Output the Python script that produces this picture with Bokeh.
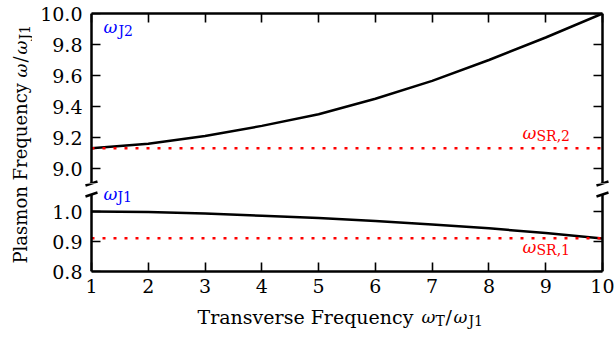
import math
from bokeh.plotting import figure
from bokeh.layouts import row, column
from bokeh.models import (Range1d, LinearAxis, FixedTicker, PrintfTickFormatter, Label)
from bokeh.embed import file_html
from bokeh.resources import INLINE

# ---------------- data ----------------
x_vals = [1, 2, 3, 4, 5, 6, 7, 8, 9, 10]
upper_mode = [9.13, 9.16, 9.21, 9.275, 9.35, 9.45, 9.565, 9.70, 9.845, 10.0]
lower_mode = [1.0, 0.998, 0.993, 0.986, 0.978, 0.968, 0.957, 0.944, 0.928, 0.910]
sr2_level = 9.13
sr1_level = 0.911
x_ticks = [1, 2, 3, 4, 5, 6, 7, 8, 9, 10]
top_ticks = [9.0, 9.2, 9.4, 9.6, 9.8, 10.0]
bottom_ticks = [0.8, 0.9, 1.0]

FONT = "DejaVu Serif"
FS = "19px"
OM = "17px"
SUB = "14px"
SH = 7   # baseline correction for Label text (px)

# ---------------- geometry (pixels) ----------------
W, H = 614, 339
LEFT_W = 32
PANEL_W = W - LEFT_W
SP_L, SP_R = 91, 602          # spines (x = 1 and x = 10)
FR_L, FR_R = 84, 609          # frames extend a little past the spines
TOP_T, TOP_SP_B = 13, 183
SPLIT = 183                   # top frame ends / bottom frame starts here
BOT_SP_T, BOT_B = 194, 271
TOP_H = SPLIT
STRIP_T = 303
BOT_H = STRIP_T - TOP_H

X0, X1 = x_ticks[0], x_ticks[-1]
TOP_PX_PER = 155.0
TOP_MAX = top_ticks[-1]
BOT_PX_PER = 300.0
BOT_MIN = bottom_ticks[0]


def xd(px):
    return X0 + (px - SP_L) * (X1 - X0) / (SP_R - SP_L)


def ty(py):
    return TOP_MAX - (py - TOP_T) / TOP_PX_PER


def by(py):
    return BOT_MIN + (BOT_B - py) / BOT_PX_PER


def style_axis(ax, ticks, labels=True):
    ax.axis_line_width = 2.5
    ax.axis_line_color = "black"
    ax.major_tick_in = 9
    ax.major_tick_out = 0
    ax.minor_tick_in = 0
    ax.minor_tick_out = 0
    ax.major_tick_line_width = 1.6
    ax.major_tick_line_color = "black"
    ax.major_label_text_font = FONT
    ax.major_label_text_color = "black"
    if labels:
        ax.major_label_text_font_size = FS
    else:
        ax.major_label_overrides = {t: "" for t in ticks}
        ax.major_label_text_font_size = "1px"
        ax.major_label_standoff = 0
    return ax


def label_axis(ticker):
    # tick labels only, sitting at the frame edge
    ax = LinearAxis(ticker=ticker, formatter=PrintfTickFormatter(format="%.1f"))
    ax.axis_line_color = None
    ax.major_tick_line_color = None
    ax.minor_tick_line_color = None
    ax.major_tick_in = 0
    ax.major_tick_out = 0
    ax.minor_tick_in = 0
    ax.minor_tick_out = 0
    ax.major_label_text_font = FONT
    ax.major_label_text_font_size = FS
    ax.major_label_text_color = "black"
    ax.major_label_standoff = 2
    return ax


def make_fig(width, height, xr, yr, bl=0, br=0, bt=0, bb=0):
    p = figure(width=width, height=height, x_range=xr, y_range=yr,
               output_backend="svg", toolbar_location=None,
               x_axis_location=None, y_axis_location=None,
               min_border_left=bl, min_border_right=br,
               min_border_top=bt, min_border_bottom=bb)
    p.outline_line_color = None
    p.grid.grid_line_color = None
    p.background_fill_color = "white"
    p.border_fill_color = "white"
    return p


def add_text(p, x, y, text, size=FS, color="black", italic=False, angle=0.0):
    p.add_layout(Label(x=x, y=y, text=text, text_font=FONT, text_font_size=size,
                       text_color=color, text_font_style="italic" if italic else "normal",
                       text_align="left", text_baseline="alphabetic", angle=angle))


def brk(p, cx, cy, yfn):
    p.segment(x0=[xd(cx - 6)], y0=[yfn(cy + 2)], x1=[xd(cx + 6)], y1=[yfn(cy - 2)],
              line_width=2.5, line_color="black")


xt = FixedTicker(ticks=x_ticks)

# ---------------- top panel ----------------
top = make_fig(PANEL_W, TOP_H, Range1d(xd(FR_L), xd(FR_R)), Range1d(ty(SPLIT), TOP_MAX),
               bl=FR_L - LEFT_W, br=W - FR_R, bt=TOP_T, bb=0)
yt = FixedTicker(ticks=top_ticks)
top_bounds = (ty(TOP_SP_B), TOP_MAX)
top.add_layout(label_axis(yt), "left")
top.add_layout(style_axis(LinearAxis(ticker=yt, fixed_location=X0, bounds=top_bounds),
                          top_ticks, labels=False), "left")
top.add_layout(style_axis(LinearAxis(ticker=yt, fixed_location=X1, bounds=top_bounds),
                          top_ticks, labels=False), "right")
top.add_layout(style_axis(LinearAxis(ticker=xt, bounds=(X0, X1)), x_ticks, labels=False), "above")

top.line(x_vals, upper_mode, line_width=2.5, line_color="black")
top.line([x_vals[0], x_vals[-1]], [sr2_level, sr2_level], line_color="red",
         line_width=2.5, line_dash="3 8")

add_text(top, xd(103), ty(33 - SH), "ω", size=OM, color="blue", italic=True)
add_text(top, xd(118), ty(37 - SH), "J2", size=SUB, color="blue")
add_text(top, xd(522), ty(139 - SH), "ω", size=OM, color="red", italic=True)
add_text(top, xd(536), ty(142 - SH), "SR,2", size=SUB, color="red")
brk(top, SP_L, TOP_SP_B, ty)
brk(top, SP_R, TOP_SP_B, ty)

# ---------------- bottom panel ----------------
bot = make_fig(PANEL_W, BOT_H, Range1d(xd(FR_L), xd(FR_R)), Range1d(BOT_MIN, by(SPLIT)),
               bl=FR_L - LEFT_W, br=W - FR_R, bt=0, bb=STRIP_T - BOT_B)
ybt = FixedTicker(ticks=bottom_ticks)
bot_bounds = (BOT_MIN, by(BOT_SP_T))
bot.add_layout(label_axis(ybt), "left")
bot.add_layout(style_axis(LinearAxis(ticker=ybt, fixed_location=X0, bounds=bot_bounds),
                          bottom_ticks, labels=False), "left")
bot.add_layout(style_axis(LinearAxis(ticker=ybt, fixed_location=X1, bounds=bot_bounds),
                          bottom_ticks, labels=False), "right")
xb = style_axis(LinearAxis(ticker=xt, bounds=(X0, X1)), x_ticks)
xb.major_label_standoff = 7
bot.add_layout(xb, "below")

bot.line(x_vals, lower_mode, line_width=2.5, line_color="black")
bot.line([x_vals[0], x_vals[-1]], [sr1_level, sr1_level], line_color="red",
         line_width=2.5, line_dash="3 8")

add_text(bot, xd(103), by(200 - SH), "ω", size=OM, color="blue", italic=True)
add_text(bot, xd(117), by(203 - SH), "J1", size=SUB, color="blue")
add_text(bot, xd(522), by(253 - SH), "ω", size=OM, color="red", italic=True)
add_text(bot, xd(536), by(256 - SH), "SR,1", size=SUB, color="red")
brk(bot, SP_L, BOT_SP_T, by)
brk(bot, SP_R, BOT_SP_T, by)
# lower halves of the upper break marks fall inside this frame
brk(bot, SP_L, TOP_SP_B, by)
brk(bot, SP_R, TOP_SP_B, by)

# ---------------- left label strip (y axis title) ----------------
left = make_fig(LEFT_W, STRIP_T, Range1d(0, LEFT_W), Range1d(STRIP_T, 0))
ang = math.pi / 2
YL = "18px"
add_text(left, 27 - SH, 263, "Plasmon Frequency", size=YL, angle=ang)
add_text(left, 27 - SH, 77, "ω", size=OM, italic=True, angle=ang)
add_text(left, 27 - SH, 62, "/", size=YL, angle=ang)
add_text(left, 27 - SH, 54, "ω", size=OM, italic=True, angle=ang)
add_text(left, 31 - SH, 39, "J1", size=SUB, angle=ang)

# ---------------- bottom label strip (x axis title) ----------------
strip = make_fig(W, H - STRIP_T, Range1d(0, W), Range1d(H, STRIP_T))
add_text(strip, 197, 323 - SH, "Transverse Frequency")
add_text(strip, 421, 323 - SH, "ω", size=OM, italic=True)
add_text(strip, 435, 327 - SH, "T", size=SUB)
add_text(strip, 445, 323 - SH, "/")
add_text(strip, 453, 323 - SH, "ω", size=OM, italic=True)
add_text(strip, 468, 327 - SH, "J1", size=SUB)

layout = column(row(left, column(top, bot)), strip)
open("out.html", "w").write(file_html(layout, INLINE))
